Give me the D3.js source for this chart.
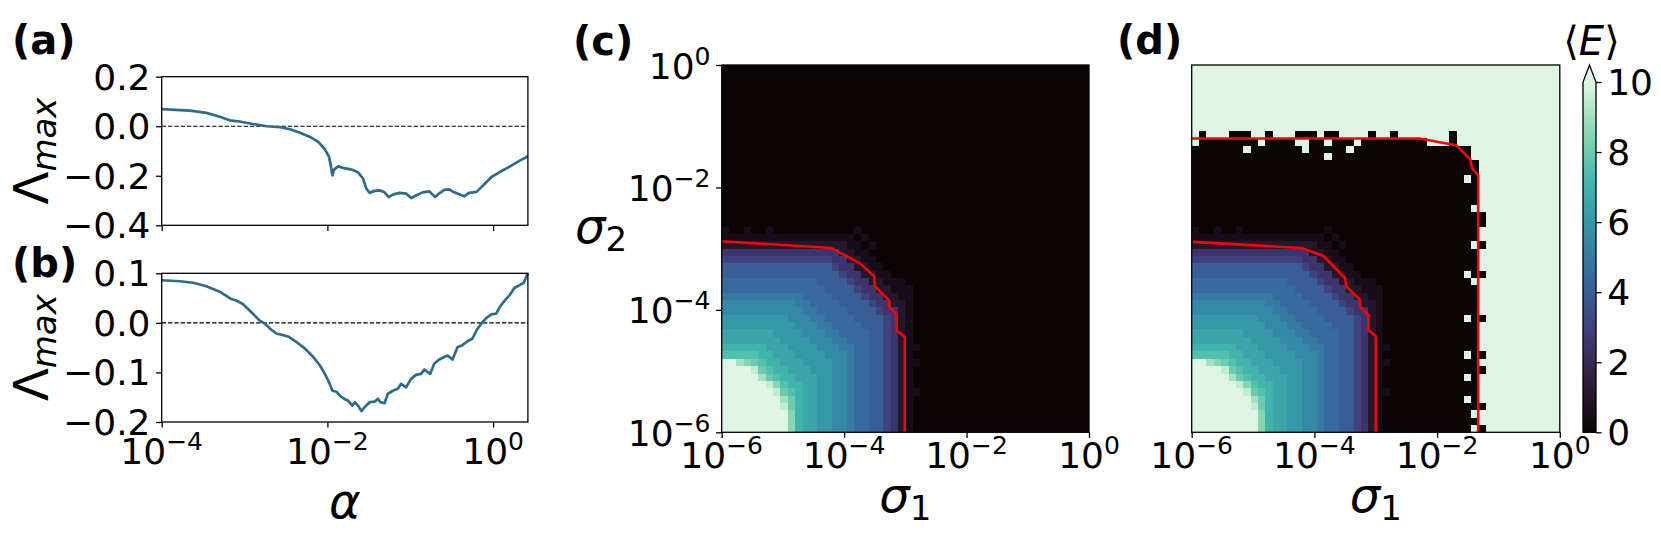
<!DOCTYPE html>
<html>
<head>
<meta charset="utf-8">
<title>Lambda max and mean energy maps</title>
<style>
  body { margin: 0; background: #fff; }
  svg text { font-family: "DejaVu Sans", sans-serif; fill: #000; }
</style>
</head>
<body>
<svg id="fig" width="1661" height="542"></svg>
<script src="https://d3js.org/d3.v7.min.js"></script>
<script>
// ---------- values ----------
// (a) and (b): log10(alpha) and Lambda_max
var alphaExpA = [-4.00,-3.66,-3.46,-3.30,-3.18,-3.06,-2.90,-2.73,-2.57,-2.45,-2.33,-2.21,-2.11,-2.03,-1.98,-1.96,-1.94,-1.92,-1.87,-1.81,-1.71,-1.63,-1.57,-1.53,-1.49,-1.43,-1.37,-1.31,-1.26,-1.21,-1.13,-1.05,-0.99,-0.93,-0.85,-0.77,-0.70,-0.65,-0.59,-0.53,-0.47,-0.41,-0.35,-0.29,-0.20,-0.16,-0.10,-0.02,0.08,0.20,0.30,0.42];
var lambdaA = [0.069,0.063,0.054,0.038,0.024,0.019,0.009,0.000,-0.004,-0.012,-0.026,-0.043,-0.063,-0.093,-0.124,-0.158,-0.198,-0.175,-0.162,-0.168,-0.175,-0.186,-0.211,-0.252,-0.269,-0.261,-0.259,-0.267,-0.286,-0.276,-0.269,-0.272,-0.290,-0.280,-0.267,-0.263,-0.286,-0.271,-0.257,-0.255,-0.267,-0.275,-0.283,-0.269,-0.265,-0.252,-0.232,-0.205,-0.185,-0.163,-0.143,-0.121];

var alphaExpB = [-4.00,-3.78,-3.62,-3.46,-3.30,-3.16,-3.10,-3.02,-2.92,-2.82,-2.76,-2.69,-2.61,-2.55,-2.47,-2.37,-2.27,-2.17,-2.09,-2.03,-1.98,-1.94,-1.89,-1.85,-1.80,-1.75,-1.70,-1.67,-1.63,-1.59,-1.55,-1.49,-1.43,-1.39,-1.36,-1.31,-1.27,-1.21,-1.15,-1.11,-1.05,-0.99,-0.93,-0.87,-0.83,-0.76,-0.71,-0.65,-0.59,-0.55,-0.49,-0.43,-0.37,-0.31,-0.25,-0.20,-0.14,-0.08,-0.02,0.04,0.08,0.14,0.20,0.26,0.32,0.37,0.42];
var lambdaB = [0.086,0.084,0.081,0.074,0.063,0.048,0.045,0.038,0.022,0.005,-0.001,-0.012,-0.022,-0.024,-0.028,-0.039,-0.052,-0.069,-0.086,-0.103,-0.120,-0.137,-0.139,-0.147,-0.153,-0.157,-0.167,-0.160,-0.167,-0.178,-0.170,-0.160,-0.159,-0.153,-0.160,-0.162,-0.143,-0.137,-0.133,-0.123,-0.130,-0.113,-0.105,-0.103,-0.094,-0.103,-0.082,-0.074,-0.069,-0.066,-0.074,-0.049,-0.045,-0.037,-0.032,-0.015,-0.001,0.010,0.017,0.019,0.032,0.045,0.056,0.071,0.076,0.081,0.100];

var alphaTickExp = [-4, -2, 0];
var yTicksA = [0.2, 0.0, -0.2, -0.4];
var yTicksB = [0.1, 0.0, -0.1, -0.2];
var sigmaTickExp = [-6, -4, -2, 0];
var cbarTicks = [0, 2, 4, 6, 8, 10];

// <E> maps: 50 x 50 cells over 1e-6..1 in sigma1 (columns) and sigma2 (rows), top row first.
// one character per cell, value = position in `levels` / 2  ("K" = 10 or more).
// each row is written as columns 0-25 + columns 26-49
var levels = "0123456789ABCDEFGHIJK";
var gridC = [
"00000000000000000000000000" + "000000000000000000000000",
"00000000000000000000000000" + "000000000000000000000000",
"00000000000000000000000000" + "000000000000000000000000",
"00000000000000000000000000" + "000000000000000000000000",
"00000000000000000000000000" + "000000000000000000000000",
"00000000000000000000000000" + "000000000000000000000000",
"00000000000000000000000000" + "000000000000000000000000",
"00000000000000000000000000" + "000000000000000000000000",
"00000000000000000000000000" + "000000000000000000000000",
"00000000000000000000000000" + "000000000000000000000000",
"00000000000000000000000000" + "000000000000000000000000",
"00000000000000000000000000" + "000000000000000000000000",
"00000000000000000000000000" + "000000000000000000000000",
"00000000000000000000000000" + "000000000000000000000000",
"00000000000000000000000000" + "000000000000000000000000",
"00000000000000000000000000" + "000000000000000000000000",
"00000000000000000000000000" + "000000000000000000000000",
"00000000000000000000000000" + "000000000000000000000000",
"00000000000000000000000000" + "000000000000000000000000",
"00000000000000000000000000" + "000000000000000000000000",
"00000000000000000000000000" + "000000000000000000000000",
"00000000000000000000000000" + "000000000000000000000000",
"10010010000000000010000000" + "000000000000000000000000",
"11111111111111111101000000" + "000000000000000000000000",
"22222222222222222110100000" + "000000000000000000000000",
"55555555555555552211000000" + "000000000000000000000000",
"66666666666666655221100000" + "000000000000000000000000",
"88888888888888865522110000" + "000000000000000000000000",
"88888888888888886552211000" + "000000000000000000000000",
"99999999999998888655221110" + "000000000000000000000000",
"99999999999999888865522111" + "000000000000000000000000",
"AAAAAAAAAAA999988886552211" + "000000000000000000000000",
"BBBBBBBBBBAA99998888655221" + "000000000000000000000000",
"BBBBBBBBBBBAA9999888865521" + "000000000000000000000000",
"CCCCCCCCCBBBAA999988886521" + "000000000000000000000000",
"CCCCCCCCCCBBBAA99998886521" + "000000000000000000000000",
"DDDDDDDCCCCBBBAA9999886521" + "000000000000000000000000",
"DDDDDDDDCCCCBBBAA999886521" + "000000000000000000000000",
"EEEEEEDDDCCCCBBBAA99886521" + "100000000000000000000000",
"FFFFFEEDDDCCCCBBBA99886521" + "000000000000000000000000",
"KKIHGFEEDDDCCCCBBA99886521" + "100000000000000000000000",
"KKKKJGFEEDDDCCCBBA99886521" + "000000000000000000000000",
"KKKKKIGFEEDDDCCBBA99886521" + "000000000000000000000000",
"KKKKKKJHFEEDDCCBBA99886521" + "000000000000000000000000",
"KKKKKKKJGFEDDCCBBA99886521" + "100000000000000000000000",
"KKKKKKKKIGEDDCCBBA99886521" + "000000000000000000000000",
"KKKKKKKKJGEDDCCBBA99886521" + "000000000000000000000000",
"KKKKKKKKKHEDDCCBBA99886521" + "000000000000000000000000",
"KKKKKKKKKHEDDCCBBA99886521" + "000000000000000000000000",
"KKKKKKKKKHEDDCCBBA99886521" + "000000000000000000000000"
];
var gridD = [
"KKKKKKKKKKKKKKKKKKKKKKKKKK" + "KKKKKKKKKKKKKKKKKKKKKKKK",
"KKKKKKKKKKKKKKKKKKKKKKKKKK" + "KKKKKKKKKKKKKKKKKKKKKKKK",
"KKKKKKKKKKKKKKKKKKKKKKKKKK" + "KKKKKKKKKKKKKKKKKKKKKKKK",
"KKKKKKKKKKKKKKKKKKKKKKKKKK" + "KKKKKKKKKKKKKKKKKKKKKKKK",
"KKKKKKKKKKKKKKKKKKKKKKKKKK" + "KKKKKKKKKKKKKKKKKKKKKKKK",
"KKKKKKKKKKKKKKKKKKKKKKKKKK" + "KKKKKKKKKKKKKKKKKKKKKKKK",
"KKKKKKKKKKKKKKKKKKKKKKKKKK" + "KKKKKKKKKKKKKKKKKKKKKKKK",
"KKKKKKKKKKKKKKKKKKKKKKKKKK" + "KKKKKKKKKKKKKKKKKKKKKKKK",
"KKKKKKKKKKKKKKKKKKKKKKKKKK" + "KKKKKKKKKKKKKKKKKKKKKKKK",
"K0KKK000KK0KKK000K00KKKK0K" + "K0KKKKKKK0KKKKKKKKKKKKKK",
"K00000000K0000KK00K000K000" + "000000KKK0KKKKKKKKKKKKKK",
"0000000K0000000K00000K0000" + "000000000000KKKKKKKKKKKK",
"000000000000000000K0000000" + "000000000000KKKKKKKKKKKK",
"00000000000000000000000000" + "0000000000000KKKKKKKKKKK",
"00000000000000000000000000" + "0000000000000KKKKKKKKKKK",
"00000000000000000000000000" + "00000000000K0KKKKKKKKKKK",
"00000000000000000000000000" + "0000000000000KKKKKKKKKKK",
"00000000000000000000000000" + "0000000000000KKKKKKKKKKK",
"00000000000000000000000000" + "0000000000000KKKKKKKKKKK",
"00000000000000000000000000" + "000000000000KKKKKKKKKKKK",
"00000000000000000000000000" + "00000000000000KKKKKKKKKK",
"00000000000000000000000000" + "00000000000000KKKKKKKKKK",
"10010010000000000010000000" + "0000000000000KKKKKKKKKKK",
"11111111111111111101000000" + "0000000000000KKKKKKKKKKK",
"22222222222222222110100000" + "000000000000K0KKKKKKKKKK",
"55555555555555552211000000" + "0000000000000KKKKKKKKKKK",
"66666666666666655221100000" + "0000000000000KKKKKKKKKKK",
"88888888888888865522110000" + "0000000000000KKKKKKKKKKK",
"88888888888888886552211000" + "00000000000K00KKKKKKKKKK",
"99999999999998888655221110" + "000000000000KKKKKKKKKKKK",
"99999999999999888865522111" + "0000000000000KKKKKKKKKKK",
"AAAAAAAAAAA999988886552211" + "0000000000000KKKKKKKKKKK",
"BBBBBBBBBBAA99998888655221" + "0000000000000KKKKKKKKKKK",
"BBBBBBBBBBBAA9999888865521" + "0000000000000KKKKKKKKKKK",
"CCCCCCCCCBBBAA999988886521" + "00000000000K00KKKKKKKKKK",
"CCCCCCCCCCBBBAA99998886521" + "0000000000000KKKKKKKKKKK",
"DDDDDDDCCCCBBBAA9999886521" + "0000000000000KKKKKKKKKKK",
"DDDDDDDDCCCCBBBAA999886521" + "0000000000000KKKKKKKKKKK",
"EEEEEEDDDCCCCBBBAA99886521" + "1000000000000KKKKKKKKKKK",
"FFFFFEEDDDCCCCBBBA99886521" + "00000000000K00KKKKKKKKKK",
"KKIHGFEEDDDCCCCBBA99886521" + "1000000000000KKKKKKKKKKK",
"KKKKJGFEEDDDCCCBBA99886521" + "00000000000000KKKKKKKKKK",
"KKKKKIGFEEDDDCCBBA99886521" + "00000000000K0KKKKKKKKKKK",
"KKKKKKJHFEEDDCCBBA99886521" + "0000000000000KKKKKKKKKKK",
"KKKKKKKJGFEDDCCBBA99886521" + "1000000000000KKKKKKKKKKK",
"KKKKKKKKIGEDDCCBBA99886521" + "00000000000K0KKKKKKKKKKK",
"KKKKKKKKJGEDDCCBBA99886521" + "00000000000000KKKKKKKKKK",
"KKKKKKKKKHEDDCCBBA99886521" + "000000000000KKKKKKKKKKKK",
"KKKKKKKKKHEDDCCBBA99886521" + "0000000000000KKKKKKKKKKK",
"KKKKKKKKKHEDDCCBBA99886521" + "000000000000K0KKKKKKKKKK"
];

// red contours, [log10 sigma1, log10 sigma2]
var contourC = [[-6.0,-2.88],[-4.21,-2.99],[-3.74,-3.24],[-3.51,-3.45],[-3.50,-3.61],[-3.27,-3.84],[-3.26,-3.96],[-3.15,-4.07],[-3.14,-4.34],[-3.01,-4.44],[-3.01,-6.0]];
var contourDInner = [[-5.98,-2.89],[-4.21,-2.99],[-3.85,-3.12],[-3.66,-3.32],[-3.50,-3.48],[-3.48,-3.62],[-3.26,-3.83],[-3.25,-3.96],[-3.12,-4.08],[-3.12,-4.33],[-3.00,-4.43],[-3.00,-6.0]];
var contourDOuter = [[-6.0,-1.20],[-2.29,-1.20],[-1.69,-1.31],[-1.46,-1.54],[-1.43,-1.69],[-1.33,-1.80],[-1.33,-6.0]];

// mako colormap anchors
var makoPos = [0, 1/7, 2/7, 3/7, 4/7, 5/7, 6/7, 1];
var makoHex = ["#0b0405", "#2e1e3b", "#413d7b", "#37659e", "#348fa7", "#40b7ad", "#8ad9b1", "#def5e5"];

// ---------- layout ----------
var svg = d3.select("#fig");

var boxA = {x0: 161.7, x1: 527.9, y0: 76.7, y1: 225.3},
    boxB = {x0: 161.7, x1: 527.9, y0: 273.3, y1: 422},
    boxC = {x0: 721.7, x1: 1089, y0: 65, y1: 432.3},
    boxD = {x0: 1191.7, x1: 1559.8, y0: 65, y1: 432.3},
    cbar = {x0: 1583, x1: 1596, y0: 82, y1: 432.3, tip: 65};

var TICK = 5.6, TICK_FS = 36, SUP_FS = 25, LABEL_FS = 48, SUB_FS = 34, LW = 1.3;

var mako = d3.scaleLinear()
    .domain(makoPos.map(function(p) { return p * 10; }))
    .range(makoHex)
    .interpolate(d3.interpolateRgb)
    .clamp(true);

function exp10(e) { return Math.pow(10, e); }
function minus(v) { return v < 0 ? "\u2212" + Math.abs(v) : String(v); }

function frame(box) {
    svg.append("rect")
        .attr("x", box.x0).attr("y", box.y0)
        .attr("width", box.x1 - box.x0).attr("height", box.y1 - box.y0)
        .attr("fill", "none").attr("stroke", "#000").attr("stroke-width", LW);
}

function ticks(axis, tx, ty) {
    var g = svg.append("g").attr("transform", "translate(" + tx + "," + ty + ")").call(axis);
    g.select(".domain").remove();
    g.selectAll("line").attr("stroke", "#000").attr("stroke-width", LW);
    g.selectAll("text").remove();
}

function powLabel(x, y, anchor, e) {
    var t = svg.append("text").attr("x", x).attr("y", y)
        .attr("text-anchor", anchor).attr("font-size", TICK_FS);
    t.append("tspan").text("10");
    t.append("tspan").attr("dy", -14).attr("font-size", SUP_FS).text(minus(e));
}

function panelLabel(x, y, s) {
    svg.append("text").attr("x", x).attr("y", y).attr("font-size", 40)
        .attr("font-weight", "bold").text(s);
}

// ---------- (a) and (b) ----------
function linePanel(box, yDomain, yTicks, alphaExp, lambda, showX) {
    var x = d3.scaleLog().domain([1e-4, exp10(0.42)]).range([box.x0, box.x1]);
    var y = d3.scaleLinear().domain(yDomain).range([box.y1, box.y0]);

    svg.append("line")
        .attr("x1", box.x0).attr("x2", box.x1)
        .attr("y1", y(0)).attr("y2", y(0))
        .attr("stroke", "#000").attr("stroke-width", 1.2)
        .attr("stroke-dasharray", "4.4,1.9");

    var line = d3.line()
        .x(function(d) { return x(exp10(d[0])); })
        .y(function(d) { return y(d[1]); });
    svg.append("path")
        .datum(d3.zip(alphaExp, lambda))
        .attr("d", line)
        .attr("fill", "none").attr("stroke", "#2c6d8c")
        .attr("stroke-width", 2.7).attr("stroke-linejoin", "round");

    frame(box);
    ticks(d3.axisLeft(y).tickValues(yTicks).tickSize(TICK).tickFormat(""), box.x0, 0);
    ticks(d3.axisBottom(x).tickValues(alphaTickExp.map(exp10)).tickSize(TICK).tickFormat(""), 0, box.y1);

    yTicks.forEach(function(v) {
        var s = Math.abs(v).toFixed(1);
        svg.append("text").attr("x", box.x0 - 11.2).attr("y", y(v) + 13)
            .attr("text-anchor", "end").attr("font-size", TICK_FS)
            .text(v < 0 ? "\u2212" + s : s);
    });
    if (showX) {
        alphaTickExp.forEach(function(e) { powLabel(x(exp10(e)), 464, "middle", e); });
    }

    var yl = svg.append("text")
        .attr("transform", "translate(48," + (box.y0 + box.y1) / 2 + ") rotate(-90)")
        .attr("text-anchor", "middle").attr("font-size", LABEL_FS);
    yl.append("tspan").text("\u039b");
    yl.append("tspan").attr("font-style", "italic").attr("font-size", SUB_FS).attr("dy", 8).text("max");
}

linePanel(boxA, [-0.4, 0.2], yTicksA, alphaExpA, lambdaA, false);
linePanel(boxB, [-0.2, 0.1], yTicksB, alphaExpB, lambdaB, true);

svg.append("text").attr("x", (boxB.x0 + boxB.x1) / 2).attr("y", 518)
    .attr("text-anchor", "middle").attr("font-size", LABEL_FS)
    .attr("font-style", "italic").text("\u03b1");

// ---------- (c) and (d) ----------
function mapPanel(box, grid, contours) {
    var x = d3.scaleLog().domain([1e-6, 1]).range([box.x0, box.x1]);
    var y = d3.scaleLog().domain([1e-6, 1]).range([box.y1, box.y0]);
    var step = 6 / 50;

    var cells = [];
    grid.forEach(function(row, r) {
        var j = grid.length - 1 - r;
        for (var i = 0; i < Math.min(row.length, 50); i++) {
            cells.push({i: i, j: j, v: levels.indexOf(row[i]) / 2});
        }
    });

    svg.append("g").selectAll("rect").data(cells).enter().append("rect")
        .attr("x", function(d) { return x(exp10(-6 + step * d.i)); })
        .attr("width", function(d) { return x(exp10(-6 + step * (d.i + 1))) - x(exp10(-6 + step * d.i)); })
        .attr("y", function(d) { return y(exp10(-6 + step * (d.j + 1))); })
        .attr("height", function(d) { return y(exp10(-6 + step * d.j)) - y(exp10(-6 + step * (d.j + 1))); })
        .attr("fill", function(d) { return mako(d.v); })
        .attr("shape-rendering", "crispEdges");

    var line = d3.line()
        .x(function(d) { return x(exp10(d[0])); })
        .y(function(d) { return y(exp10(d[1])); });
    contours.forEach(function(c) {
        svg.append("path").datum(c).attr("d", line)
            .attr("fill", "none").attr("stroke", "#ff0000")
            .attr("stroke-width", 2.6).attr("stroke-linejoin", "round");
    });

    frame(box);
    ticks(d3.axisBottom(x).tickValues(sigmaTickExp.map(exp10)).tickSize(TICK).tickFormat(""), 0, box.y1);
    sigmaTickExp.forEach(function(e) { powLabel(x(exp10(e)), 468, "middle", e); });

    var xl = svg.append("text").attr("x", (box.x0 + box.x1) / 2).attr("y", 512)
        .attr("text-anchor", "middle").attr("font-size", LABEL_FS);
    xl.append("tspan").attr("font-style", "italic").text("\u03c3");
    xl.append("tspan").attr("font-size", SUB_FS).attr("dy", 8).text("1");
    return y;
}

var yC = mapPanel(boxC, gridC, [contourC]);
ticks(d3.axisLeft(yC).tickValues(sigmaTickExp.map(exp10)).tickSize(TICK).tickFormat(""), boxC.x0, 0);
sigmaTickExp.forEach(function(e) { powLabel(boxC.x0 - 11.2, yC(exp10(e)) + 13.5, "end", e); });
var sl = svg.append("text").attr("x", 601).attr("y", 243)
    .attr("text-anchor", "middle").attr("font-size", LABEL_FS);
sl.append("tspan").attr("font-style", "italic").text("\u03c3");
sl.append("tspan").attr("font-size", SUB_FS).attr("dy", 8).text("2");

mapPanel(boxD, gridD, [contourDInner, contourDOuter]);

// ---------- colour bar ----------
var cy = d3.scaleLinear().domain([0, 10]).range([cbar.y1, cbar.y0]);
var grad = svg.append("defs").append("linearGradient")
    .attr("id", "makoGrad").attr("x1", 0).attr("y1", 1).attr("x2", 0).attr("y2", 0);
makoPos.forEach(function(p, k) {
    grad.append("stop").attr("offset", p).attr("stop-color", makoHex[k]);
});
svg.append("rect").attr("x", cbar.x0).attr("y", cy(10))
    .attr("width", cbar.x1 - cbar.x0).attr("height", cy(0) - cy(10))
    .attr("fill", "url(#makoGrad)");
svg.append("path")
    .attr("d", "M" + cbar.x0 + "," + cy(10) + "L" + (cbar.x0 + cbar.x1) / 2 + "," + cbar.tip + "L" + cbar.x1 + "," + cy(10) + "Z")
    .attr("fill", mako(10));
svg.append("path")
    .attr("d", "M" + cbar.x0 + "," + cy(0) + "L" + cbar.x0 + "," + cy(10) + "L" + (cbar.x0 + cbar.x1) / 2 + "," + cbar.tip +
        "L" + cbar.x1 + "," + cy(10) + "L" + cbar.x1 + "," + cy(0) + "Z")
    .attr("fill", "none").attr("stroke", "#000").attr("stroke-width", LW);
ticks(d3.axisRight(cy).tickValues(cbarTicks).tickSize(TICK).tickFormat(""), cbar.x1, 0);
cbarTicks.forEach(function(v) {
    svg.append("text").attr("x", cbar.x1 + 11.2).attr("y", cy(v) + 13)
        .attr("font-size", TICK_FS).text(v);
});
var el = svg.append("text").attr("x", (cbar.x0 + cbar.x1) / 2 + 2).attr("y", 55)
    .attr("text-anchor", "middle").attr("font-size", 40);
el.append("tspan").text("\u27e8");
el.append("tspan").attr("font-style", "italic").text("E");
el.append("tspan").text("\u27e9");

// ---------- panel letters ----------
panelLabel(12, 54, "(a)");
panelLabel(12, 277, "(b)");
panelLabel(573, 55, "(c)");
panelLabel(1117, 54, "(d)");
</script>
</body>
</html>
